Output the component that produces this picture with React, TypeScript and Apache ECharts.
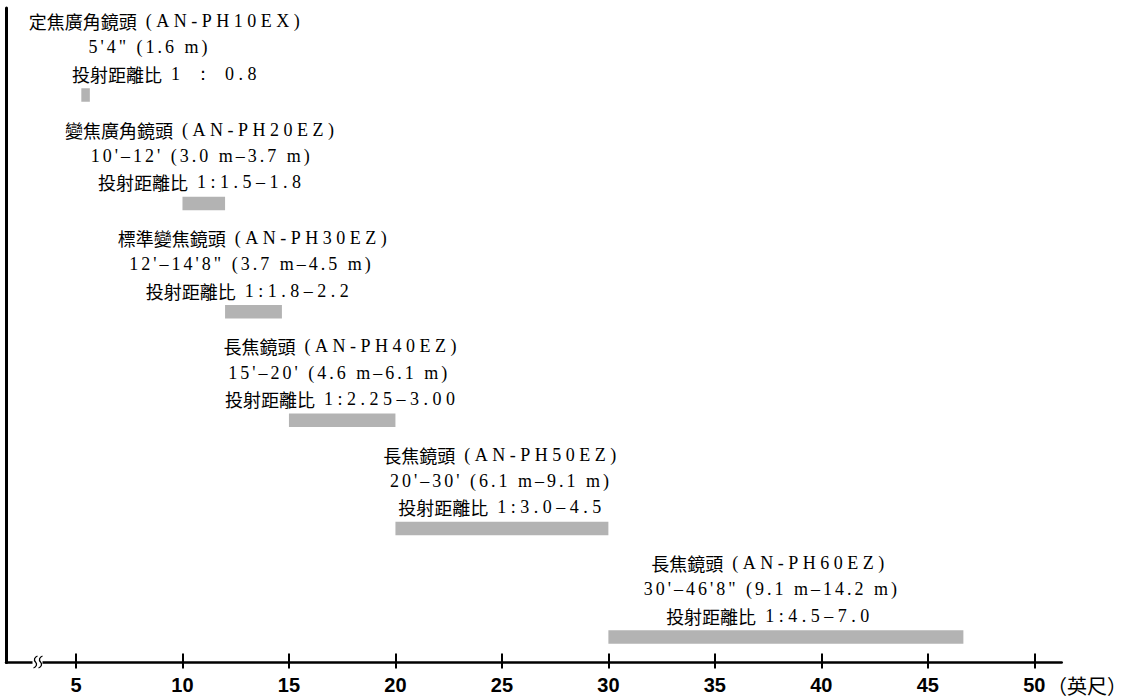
import React, { useEffect, useRef } from "react";
import * as echarts from "echarts";

// ---- data ----
const lensNames = [
  "定焦廣角鏡頭 (AN-PH10EX)",
  "變焦廣角鏡頭 (AN-PH20EZ)",
  "標準變焦鏡頭 (AN-PH30EZ)",
  "長焦鏡頭 (AN-PH40EZ)",
  "長焦鏡頭 (AN-PH50EZ)",
  "長焦鏡頭 (AN-PH60EZ)",
];
const distanceTexts = [
  "5'4\" (1.6 m)",
  "10'–12' (3.0 m–3.7 m)",
  "12'–14'8\" (3.7 m–4.5 m)",
  "15'–20' (4.6 m–6.1 m)",
  "20'–30' (6.1 m–9.1 m)",
  "30'–46'8\" (9.1 m–14.2 m)",
];
const ratioTexts = [
  "投射距離比 1 ： 0.8",
  "投射距離比 1:1.5–1.8",
  "投射距離比 1:1.8–2.2",
  "投射距離比 1:2.25–3.00",
  "投射距離比 1:3.0–4.5",
  "投射距離比 1:4.5–7.0",
];
const rangeStart = [5.25, 10, 12, 15, 20, 30];
const rangeEnd = [5.65, 12, 14.67, 20, 30, 46.67];
const tickValues = [5, 10, 15, 20, 25, 30, 35, 40, 45, 50];
const axisUnit = "（英尺）";

// ---- styles ----
const BAR_COLOR = "#b3b3b3";
const BAR_H = 13.5;
const LINE_GAP = 26.3;
const LAST_LINE_OFFSET = 14.5;
const FONT_SIZE = 18;
const CJK_FAMILY = '"Noto Sans CJK TC", sans-serif';
const LATIN_WIDE_FAMILY = '"Liberation Serif", "Times New Roman", serif';
const LATIN_MID_FAMILY = '"Liberation Serif", Tinos, serif';
const WIDE_SPACING = 4.5;
const MID_SPACING = 3;
const LABEL_DX = [
  [81, 64, 81],
  [-2, -2, -2],
  [1, -2, -4],
  [0, -3, 0],
  [0, -1, 0],
  [-16, -14, -16],
];

echarts.graphic.registerShape(
  "squiggle",
  echarts.graphic.extendPath("M2,-6 C-1,-5 -2,-2 0,0 C2,2 1,5 -2,6", {}) as any
);

const CJK_PREFIX = /^([\u3000-\u9fff]+)(.*)$/;

function buildLine(t: string, latinStyle: string, spacing: number) {
  const m = t.match(CJK_PREFIX);
  if (m) {
    return { text: `{c|${m[1]}}{${latinStyle}|${m[2]}}`, extra: m[2].length * spacing };
  }
  return { text: `{${latinStyle}|${t}}`, extra: t.length * spacing };
}

export default function App() {
  const ref = useRef<HTMLDivElement>(null);
  useEffect(() => {
    if (!ref.current) return;
    const chart = echarts.init(ref.current, undefined, { renderer: "svg" });
    const data = rangeStart.map((s, i) => [s, rangeEnd[i], i]);
    const xMin = 1.713;
    const xMax = 51.287;
    const rich = {
      c: { fontFamily: CJK_FAMILY, fontSize: FONT_SIZE, color: "#000", align: "left" },
      w: { fontFamily: LATIN_WIDE_FAMILY, fontSize: FONT_SIZE, color: "#000", align: "left" },
      m: { fontFamily: LATIN_MID_FAMILY, fontSize: FONT_SIZE, color: "#000", align: "left" },
    };
    chart.setOption({
      animation: false,
      backgroundColor: "#ffffff",
      grid: { left: 6, right: 86.3, top: 8, bottom: 36.5 },
      xAxis: [
        {
          type: "value",
          min: xMin,
          max: xMax,
          position: "bottom",
          axisLine: { show: true, onZero: false, lineStyle: { color: "#000", width: 2.5 } },
          axisTick: {
            show: true,
            customValues: tickValues,
            length: 6,
            lineStyle: { color: "#000", width: 2 },
          },
          axisLabel: {
            customValues: tickValues,
            fontSize: 20,
            fontWeight: "bold",
            fontFamily: '"Liberation Sans", Arial, sans-serif',
            color: "#000",
            margin: 12,
          },
          splitLine: { show: false },
        },
        {
          type: "value",
          min: xMin,
          max: xMax,
          position: "bottom",
          axisLine: { show: false, onZero: false },
          axisTick: {
            show: true,
            inside: true,
            customValues: tickValues,
            length: 9,
            lineStyle: { color: "#000", width: 2 },
          },
          axisLabel: { show: false },
          splitLine: { show: false },
        },
      ],
      yAxis: {
        type: "value",
        inverse: true,
        min: -0.8026,
        max: 5.235,
        axisLine: { show: true, onZero: false, lineStyle: { color: "#000", width: 3 } },
        axisTick: { show: false },
        axisLabel: { show: false },
        splitLine: { show: false },
      },
      graphic: [
        {
          type: "rect",
          shape: { x: 32.5, y: 659, width: 10, height: 7 },
          style: { fill: "#fff" },
          z: 100,
        },
        {
          type: "squiggle",
          x: 35.5,
          y: 662,
          style: { fill: "none", stroke: "#000", lineWidth: 1.3 },
          z: 101,
        },
        {
          type: "squiggle",
          x: 40.5,
          y: 662,
          style: { fill: "none", stroke: "#000", lineWidth: 1.3 },
          z: 101,
        },
        {
          type: "text",
          x: 1047,
          y: 685,
          style: {
            text: axisUnit,
            font: '20px "Noto Sans CJK TC", sans-serif',
            lineHeight: 22,
            fill: "#000",
            align: "left",
            verticalAlign: "middle",
          },
        },
      ],
      series: [
        {
          type: "custom",
          xAxisIndex: 0,
          clip: false,
          encode: { x: [0, 1], y: 2 },
          data,
          renderItem: (params: any, api: any) => {
            const i = params.dataIndex;
            const s = api.coord([api.value(0), api.value(2)]);
            const e = api.coord([api.value(1), api.value(2)]);
            const top = s[1] - BAR_H / 2;
            const cx = (s[0] + e[0]) / 2;
            const lines = [
              buildLine(lensNames[i], "w", WIDE_SPACING),
              buildLine(distanceTexts[i], "m", MID_SPACING),
              buildLine(ratioTexts[i], "w", WIDE_SPACING),
            ];
            const children: any[] = [
              {
                type: "rect",
                shape: { x: s[0], y: top, width: e[0] - s[0], height: BAR_H },
                style: { fill: BAR_COLOR },
              },
            ];
            lines.forEach((ln, k) => {
              children.push({
                type: "text",
                style: {
                  text: ln.text,
                  rich,
                  x: cx + LABEL_DX[i][k] - ln.extra / 2,
                  y: top - LAST_LINE_OFFSET - (2 - k) * LINE_GAP,
                  align: "center",
                  verticalAlign: "middle",
                  fill: "#000",
                },
              });
            });
            return { type: "group", children };
          },
        },
      ],
    });
    return () => chart.dispose();
  }, []);
  return (
    <>
      <style>{`
        #root text[style*="Times New Roman"] { letter-spacing: ${WIDE_SPACING}px; }
        #root text[style*="Tinos"] { letter-spacing: ${MID_SPACING}px; }
      `}</style>
      <div
        ref={ref}
        style={{
          position: "fixed",
          left: 0,
          top: 0,
          width: "1148px",
          height: "699px",
          background: "#fff",
        }}
      />
    </>
  );
}
